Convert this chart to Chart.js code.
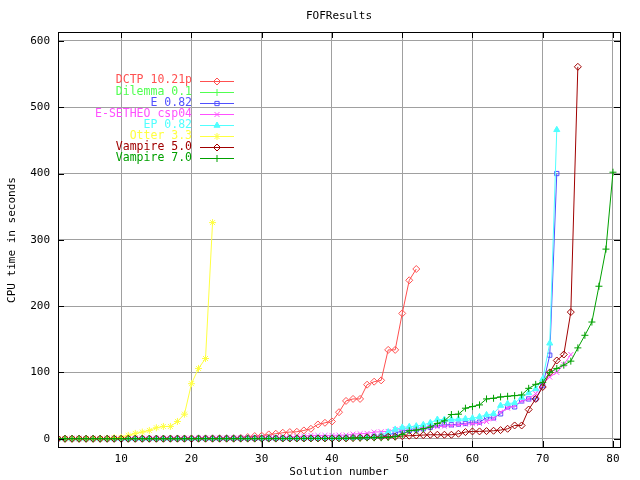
<!DOCTYPE html>
<html>
<head>
<meta charset="utf-8">
<script src="https://cdn.jsdelivr.net/npm/chart.js@4/dist/chart.umd.min.js"></script>
<style>
  body { margin: 0; background: #fff; }
  canvas { display: block; }
</style>
</head>
<body>
<canvas id="c" width="640" height="480"></canvas>
<script>
// series labels, in gnuplot key order
const systems = ['DCTP 10.21p', 'Dilemma 0.1', 'E 0.82', 'E-SETHEO csp04', 'EP 0.82', 'Otter 3.3', 'Vampire 5.0', 'Vampire 7.0']

// CPU time (s) of the n-th solved problem, sorted ascending
const dctp = [0.1,0.1,0.1,0.1,0.1,0.1,0.1,0.2,0.2,0.2,0.2,0.2,0.3,0.3,0.3,0.3,0.4,0.4,0.4,0.5,0.5,0.6,0.7,0.8,0.9,1.0,
  1.5,2.5,4,4.5,6.5,7.5,9,10,10.5,12.5,15,21.5,24,26,40,57,60,60,81.5,86,88,134,134,189,239,256]
const dilemma = [0.1,0.1,0.1,0.1,0.1,0.1,0.1,0.1,0.1,0.1,0.2,0.2,0.2,0.2,0.2,0.3,0.3,0.3,0.4,0.4,0.5]
const e082 = [0.1,0.1,0.1,0.1,0.1,0.1,0.1,0.1,0.1,0.1,0.1,0.1,0.1,0.2,0.2,0.2,0.2,0.2,0.2,0.2,
  0.3,0.3,0.3,0.3,0.4,0.4,0.4,0.5,0.5,0.5,0.6,0.6,0.7,0.7,0.8,0.8,0.9,0.9,1,1,
  1.5,1.5,2,2,2.5,3,4,6,8.5,12,12.5,13.5,15,17,20,21,21,22,23,25,25,31.5,31.5,37.5,48,48,57,60,60,80,126,400]
const esetheo = [0.5,0.5,0.5,0.5,0.5,0.5,0.5,0.5,0.5,0.5,0.6,0.6,0.6,0.6,0.6,0.7,0.7,0.7,0.8,0.8,
  0.9,0.9,1,1,1,1.1,1.2,1.3,1.4,1.5,1.6,1.8,2,2.5,3,4,5,5,5,5,5.5,5.5,7,7.5,8,10,10.5,11,14,15,
  15.5,16,16.5,17,18,19,20,21,22,22.5,23,26,30,40,46,50,57,60,68,83,93,100,112,127]
const ep082 = [0.2,0.2,0.2,0.2,0.2,0.2,0.2,0.2,0.2,0.2,0.3,0.3,0.3,0.3,0.3,0.3,0.4,0.4,0.4,0.4,
  0.5,0.5,0.5,0.5,0.6,0.6,0.6,0.7,0.7,0.7,0.8,0.8,0.8,0.9,0.9,1,1,1.1,1.1,1.2,1.2,1.3,1.4,1.5,
  2,3,5,10,14,17,18,19,21,24,29,29,29,29.5,30,31,33,36,37.5,50,53,54,62,69,75,90,144,466]
const otter = [0,0,0,0,0,0,0,0.5,1.5,2,5,8,10,12.5,16.5,18.5,18.5,26,37,83,106,121,326]
const vampire5 = [0,0,0,0,0,0,0,0,0,0,0,0,0,0,0,0,0.1,0.1,0.1,0.1,0.1,0.1,0.1,0.1,0.1,0.1,
  0.2,0.2,0.2,0.2,0.2,0.2,0.3,0.3,0.3,0.3,0.4,0.4,0.4,0.5,0.5,0.5,
  1,1.5,2,2,2.5,3,3,4,4.5,5,5.5,6,6,6,6,7.5,10,11,11,11.5,12,13,15,20,20,44,60,78,100,118,127,191,561]
const vampire7 = [0,0,0,0,0,0,0,0,0,0,0,0,0,0,0,0,0,0,0,0,0.1,0.1,0.1,0.1,0.1,0.1,0.1,0.1,0.1,0.1,
  0.2,0.2,0.2,0.2,0.2,0.3,0.3,0.3,0.3,0.4,0.4,0.5,
  1,1,1.5,1.5,1.5,2,3,6.5,12,13,15,17.5,23,27,36.5,37,46,48.5,51,60,61,63,64,65,66,76,82,85,
  100,106,111,117,137,156,176,230,286,402]

const xTicks = [10, 20, 30, 40, 50, 60, 70, 80]
const yTicks = [0, 100, 200, 300, 400, 500, 600]

const seriesValues = [dctp, dilemma, e082, esetheo, ep082, otter, vampire5, vampire7]
const colors = ['#ff5050', '#50ff50', '#5050ff', '#ff50ff', '#50ffff', '#ffff40', '#a00000', '#00a000']
const markers = ['rectRot', 'cross', 'rect', 'crossRot', 'triangle', 'star', 'rectRot', 'cross']

const FONT = 'DejaVu Sans Mono'
const NONE = 'rgba(0,0,0,0)'

const datasets = systems.map((name, i) => ({
  label: name,
  data: seriesValues[i].map((v, k) => ({ x: k + 1, y: v })),
  borderColor: colors[i],
  backgroundColor: markers[i] == 'triangle' ? colors[i] : NONE,
  borderWidth: 1,
  pointStyle: markers[i],
  pointRadius: markers[i] == 'rect' ? 3 : 3.5,
  pointBorderWidth: 1,
  pointBorderColor: colors[i],
  pointBackgroundColor: markers[i] == 'triangle' ? colors[i] : NONE,
  tension: 0,
  order: systems.length - 1 - i
}))

// gnuplot-like frame, inward ticks, titles and key
const gnuplotDecor = {
  id: 'gnuplotDecor',
  afterDraw(chart) {
    const ctx = chart.ctx
    const a = chart.chartArea
    const xs = chart.scales.x, ys = chart.scales.y
    ctx.save()
    ctx.strokeStyle = '#000'
    ctx.lineWidth = 1
    ctx.strokeRect(Math.round(a.left) + 0.5, Math.round(a.top) + 0.5,
      Math.round(a.right - a.left), Math.round(a.bottom - a.top))
    ctx.beginPath()
    xTicks.forEach(t => {
      const px = Math.round(xs.getPixelForValue(t)) + 0.5
      ctx.moveTo(px, a.bottom); ctx.lineTo(px, a.bottom - 6)
      ctx.moveTo(px, a.top); ctx.lineTo(px, a.top + 6)
    })
    yTicks.forEach(t => {
      const py = Math.round(ys.getPixelForValue(t)) + 0.5
      ctx.moveTo(a.left, py); ctx.lineTo(a.left + 6, py)
      ctx.moveTo(a.right, py); ctx.lineTo(a.right - 6, py)
    })
    ctx.stroke()

    ctx.fillStyle = '#000'
    ctx.font = '11px ' + FONT
    ctx.textAlign = 'center'
    ctx.textBaseline = 'middle'
    ctx.fillText('FOFResults', (a.left + a.right) / 2, 16)
    ctx.fillText('Solution number', (a.left + a.right) / 2, 472)
    ctx.save()
    ctx.translate(12, 240)
    ctx.rotate(-Math.PI / 2)
    ctx.fillText('CPU time in seconds', 0, 0)
    ctx.restore()

    // key
    ctx.font = '11.5px ' + FONT
    chart.data.datasets.forEach((ds, i) => {
      const y = 80.5 + i * 11.1
      const ly = Math.round(y) + 0.5
      ctx.fillStyle = ds.borderColor
      ctx.textAlign = 'right'
      ctx.fillText(ds.label, 192, y)
      ctx.strokeStyle = ds.borderColor
      ctx.lineWidth = 1
      ctx.beginPath()
      ctx.moveTo(200, ly)
      ctx.lineTo(234, ly)
      ctx.stroke()
      ctx.fillStyle = ds.pointBackgroundColor
      Chart.helpers.drawPoint(ctx, {
        pointStyle: ds.pointStyle, radius: ds.pointRadius, borderWidth: 1
      }, 217, ly)
    })
    ctx.restore()
  }
}

new Chart(document.getElementById('c'), {
  type: 'line',
  data: { datasets: datasets },
  options: {
    responsive: false,
    animation: false,
    layout: { padding: { top: 32, right: 20, left: 0, bottom: 0 } },
    plugins: { legend: { display: false }, tooltip: { enabled: false }, title: { display: false } },
    scales: {
      x: {
        type: 'linear',
        min: 1,
        max: 81,
        afterBuildTicks: s => { s.ticks = xTicks.map(v => ({ value: v })) },
        afterFit: s => { s.height = 33 },
        grid: { color: '#a0a0a0', drawTicks: false },
        border: { display: false },
        ticks: { color: '#000', padding: 6, maxRotation: 0, font: { family: FONT, size: 11 } }
      },
      y: {
        type: 'linear',
        min: -12.5,
        max: 613.5,
        afterBuildTicks: s => { s.ticks = yTicks.map(v => ({ value: v })) },
        afterFit: s => { s.width = 58 },
        grid: { color: '#a0a0a0', drawTicks: false },
        border: { display: false },
        ticks: { color: '#000', padding: 8, font: { family: FONT, size: 11 } }
      }
    }
  },
  plugins: [gnuplotDecor]
})
</script>
</body>
</html>
